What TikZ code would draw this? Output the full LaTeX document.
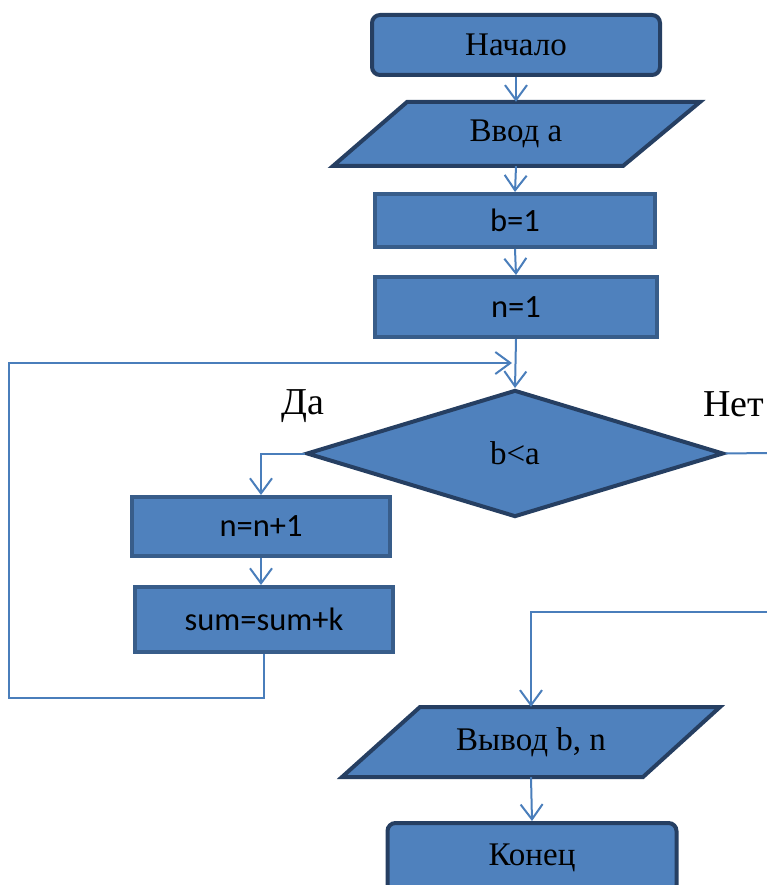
\documentclass[tikz,border=0pt]{standalone}
\usepackage{fontspec}
\setmainfont{Liberation Serif}
\newfontfamily\calib{Carlito}
\usetikzlibrary{arrows.meta,shapes.geometric}
\definecolor{fillb}{RGB}{79,129,189}
\definecolor{darkb}{RGB}{38,63,98}
\definecolor{rectb}{RGB}{56,93,138}
\definecolor{lineb}{RGB}{74,126,187}
\begin{document}
\begin{tikzpicture}[x=1pt,y=-1pt,
  txt/.style={font=\fontsize{33}{38}\selectfont},
  lbl/.style={font=\fontsize{38}{42}\selectfont},
  stxt/.style={font=\calib\fontsize{32.5}{38}\selectfont},
  term/.style={draw=darkb,fill=fillb,line width=4pt,rounded corners=8pt,minimum width=288pt,minimum height=60pt,inner sep=0pt,txt},
  proc/.style={draw=rectb,fill=fillb,line width=4pt,minimum height=56pt,inner sep=0pt,stxt},
  para/.style={draw=darkb,fill=fillb,line width=4pt,line join=miter},
  anchorbox/.style={inner sep=0pt,txt},
  conn/.style={draw=lineb,line width=2pt,-{Straight Barb[length=15pt,width=22pt,line width=2pt]}},
  plain/.style={draw=lineb,line width=2pt}
]
\useasboundingbox (0,0) rectangle (767,885);

% terminals
\node[term] (start) at (516,45) {Начало};

% input parallelogram
\path[para] (407,102) -- (700,102) -- (623,166) -- (333,166) -- cycle;
\node[anchorbox,minimum width=290pt,minimum height=64pt] (inp) at (516,134) {Ввод а};

\node[proc,minimum width=280pt,minimum height=53pt] (b1) at (515,220.5) {b=1};
\node[proc,minimum width=282pt,minimum height=60pt] (n1) at (516,307) {n=1};

\node[draw=darkb,fill=fillb,line width=4pt,diamond,minimum width=417pt,minimum height=127pt,inner sep=0pt,txt] (dec) at (515,453.5) {b<a};

\node[lbl] (yes) at (303,406) {Да};
\node[lbl] (no) at (734,404) {Нет};

\node[proc,minimum width=258pt,minimum height=59pt] (nn) at (261,526.5) {n=n+1};
\node[proc,minimum width=258pt,minimum height=65pt] (sum) at (264,619.5) {sum=sum+k};

% output parallelogram
\path[para] (420,707) -- (720,707) -- (643,777) -- (342,777) -- cycle;
\node[anchorbox,minimum width=300pt,minimum height=70pt] (out) at (531,742) {Вывод b, n};

\node[term,minimum width=289pt,minimum height=70pt] (stop) at (532,858) {Конец};

% coordinates
\coordinate (lb) at (9,698);
\coordinate (entry) at (512,363);
\coordinate (rend) at (767,453);
\coordinate (rin) at (767,612);

% connectors
\draw[conn] (start.south) -- (inp.north);
\draw[conn] (inp.south) -- (b1.north);
\draw[conn] (b1.south) -- (n1.north);
\draw[conn] (n1.south) -- (dec.north);
\draw[conn] (dec.west) -| (nn.north);
\draw[conn] (nn.south) -- (nn.south |- sum.north);
\draw[conn] (sum.south) |- (lb) |- (entry);
\draw[plain] (dec.east) -- (rend);
\draw[conn] (rin) -| (out.north);
\draw[conn] (out.south) -- (stop.north);
\end{tikzpicture}
\end{document}
